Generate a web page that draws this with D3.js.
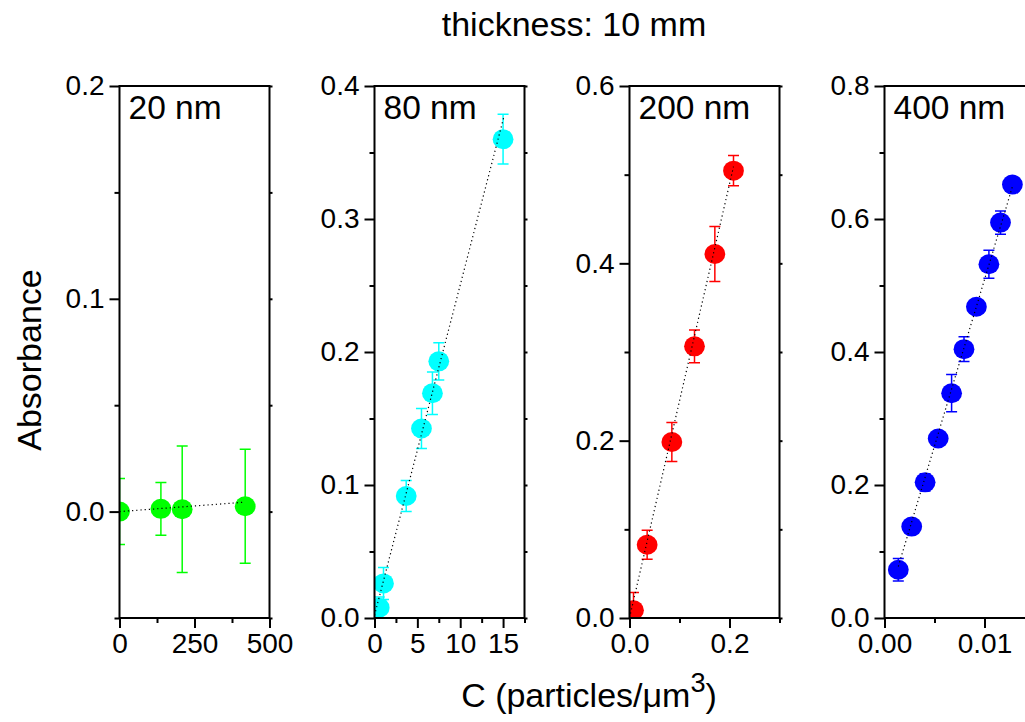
<!DOCTYPE html>
<html>
<head>
<meta charset="utf-8">
<script src="https://cdn.jsdelivr.net/npm/d3@7"></script>
<style>
  html, body { margin: 0; padding: 0; background: #fff; }
  svg text { font-family: "Liberation Sans", Arial, sans-serif; fill: #000; }
</style>
</head>
<body>
<svg id="chart" width="1025" height="722"></svg>
<script>
// ---------------- data ----------------
const panelLabels = ["20 nm", "80 nm", "200 nm", "400 nm"];

const x20 = [0, 138, 209, 419];
const y20 = [0.0, 0.0013, 0.0011, 0.0025];
const e20 = [0.0155, 0.0124, 0.0297, 0.0268];
const fit20X = [0, 415];
const fit20Y = [0.0, 0.0044];

const x80 = [0.55, 1.05, 3.7, 5.48, 6.76, 7.5, 15.0];
const y80 = [0.0078, 0.026, 0.0917, 0.1425, 0.169, 0.193, 0.36];
const e80 = [0.008, 0.012, 0.0117, 0.015, 0.016, 0.014, 0.0187];
const fit80X = [0, 15.1];
const fit80Y = [0.002, 0.377];

const x200 = [0.008, 0.0353, 0.0847, 0.13, 0.1707, 0.208];
const y200 = [0.0087, 0.0826, 0.1985, 0.3064, 0.4105, 0.5045];
const e200 = [0.02, 0.0163, 0.022, 0.0185, 0.031, 0.017];
const fit200X = [0.002, 0.208];
const fit200Y = [0.005, 0.509];

const x400 = [0.00138, 0.00272, 0.00406, 0.00537, 0.00671, 0.00795, 0.00919, 0.01044, 0.0116, 0.01279];
const y400 = [0.0725, 0.1375, 0.204, 0.270, 0.338, 0.4043, 0.468, 0.532, 0.5946, 0.6517];
const e400 = [0.017, 0.005, 0.013, 0.005, 0.028, 0.0186, 0.006, 0.021, 0.0175, 0.004];
const fit400X = [0.00138, 0.0128];
const fit400Y = [0.0775, 0.649];

// axis domains and ticks
const xDomains = [[0, 500], [0, 17.5], [0, 0.3], [0, 0.015]];
const yDomains = [[-0.05, 0.2], [0, 0.4], [0, 0.6], [0, 0.8]];
const xMajor = [[0, 250, 500], [0, 5, 10, 15], [0, 0.2], [0, 0.01]];
const xMajorLabels = [["0", "250", "500"], ["0", "5", "10", "15"], ["0.0", "0.2"], ["0.00", "0.01"]];
const xMinor = [[125, 375], [2.5, 7.5, 12.5, 17.5], [0.1, 0.3], [0.005, 0.015]];
const yMajor = [[0, 0.1, 0.2], [0, 0.1, 0.2, 0.3, 0.4], [0, 0.2, 0.4, 0.6], [0, 0.2, 0.4, 0.6, 0.8]];
const yMajorLabels = [["0.0", "0.1", "0.2"], ["0.0", "0.1", "0.2", "0.3", "0.4"], ["0.0", "0.2", "0.4", "0.6"], ["0.0", "0.2", "0.4", "0.6", "0.8"]];
const yMinor = [[-0.05, 0.05, 0.15], [0.05, 0.15, 0.25, 0.35], [0.1, 0.3, 0.5], [0.1, 0.3, 0.5, 0.7]];

const titleText = "thickness: 10 mm";
const yTitle = "Absorbance";

// ---------------- styling/layout ----------------
const colors = ["#00ff00", "#00ffff", "#ff0000", "#0000ff"];
const lefts = [119.5, 374.5, 629.5, 884.5];
const pw = 150, plotTop = 86, plotBottom = 618;
const tickFont = 28, labelFont = 33.5, titleFont = 34;

const series = [
  {x: x20, y: y20, e: e20, fx: fit20X, fy: fit20Y},
  {x: x80, y: y80, e: e80, fx: fit80X, fy: fit80Y},
  {x: x200, y: y200, e: e200, fx: fit200X, fy: fit200Y},
  {x: x400, y: y400, e: e400, fx: fit400X, fy: fit400Y}
];

const svg = d3.select("#chart");
const defs = svg.append("defs");

series.forEach((s, i) => {
  const L = lefts[i];
  const x = d3.scaleLinear().domain(xDomains[i]).range([L, L + pw]);
  const y = d3.scaleLinear().domain(yDomains[i]).range([plotBottom, plotTop]);
  const g = svg.append("g");

  defs.append("clipPath").attr("id", "clip" + i)
    .append("rect").attr("x", L).attr("y", plotTop).attr("width", pw).attr("height", plotBottom - plotTop);

  const plot = g.append("g").attr("clip-path", `url(#clip${i})`);
  const pts = s.x.map((xv, k) => ({x: xv, y: s.y[k], e: s.e[k]}));

  // error bars
  const eb = plot.append("g").attr("stroke", colors[i]).attr("stroke-width", 1.5);
  pts.forEach(p => {
    eb.append("line").attr("x1", x(p.x)).attr("x2", x(p.x)).attr("y1", y(p.y - p.e)).attr("y2", y(p.y + p.e));
    [p.y - p.e, p.y + p.e].forEach(v => {
      eb.append("line").attr("x1", x(p.x) - 5.5).attr("x2", x(p.x) + 5.5).attr("y1", y(v)).attr("y2", y(v));
    });
  });

  // markers
  plot.append("g").selectAll("ellipse").data(pts).join("ellipse")
    .attr("cx", d => x(d.x)).attr("cy", d => y(d.y)).attr("rx", 10.4).attr("ry", 10)
    .attr("fill", colors[i]);

  // fit line
  const fitPts = s.fx.map((xv, k) => [xv, s.fy[k]]);
  plot.append("path").datum(fitPts)
    .attr("d", d3.line().x(d => x(d[0])).y(d => y(d[1])))
    .attr("fill", "none").attr("stroke", "#000").attr("stroke-width", 1.2)
    .attr("stroke-dasharray", "1.2,3");

  // axes: major ticks
  const ax = g.append("g").attr("transform", `translate(0,${plotBottom})`)
    .call(d3.axisBottom(x).tickValues(xMajor[i]).tickSize(10).tickPadding(5)
      .tickFormat((d, k) => xMajorLabels[i][k]));
  const axm = g.append("g").attr("transform", `translate(0,${plotBottom})`)
    .call(d3.axisBottom(x).tickValues(xMinor[i]).tickSize(5).tickFormat(""));
  const ay = g.append("g").attr("transform", `translate(${L},0)`)
    .call(d3.axisLeft(y).tickValues(yMajor[i]).tickSize(10).tickPadding(5)
      .tickFormat((d, k) => yMajorLabels[i][k]));
  const aym = g.append("g").attr("transform", `translate(${L},0)`)
    .call(d3.axisLeft(y).tickValues(yMinor[i]).tickSize(5).tickFormat(""));
  const ayr = g.append("g").attr("transform", `translate(${L + pw},0)`)
    .call(d3.axisRight(y).tickValues(yMajor[i].concat(yMinor[i])).tickSize(3).tickFormat(""));
  [ax, axm, ay, aym, ayr].forEach(a => {
    a.select(".domain").remove();
    a.selectAll("line").attr("stroke", "#000").attr("stroke-width", 2);
    a.selectAll("text").attr("font-size", tickFont).attr("font-family", "Liberation Sans, Arial, sans-serif");
  });

  // frame
  g.append("rect").attr("x", L).attr("y", plotTop).attr("width", pw).attr("height", plotBottom - plotTop)
    .attr("fill", "none").attr("stroke", "#000").attr("stroke-width", 2);

  // panel label
  g.append("text").attr("x", L + 9).attr("y", plotTop + 33)
    .attr("font-size", labelFont).text(panelLabels[i]);
});

// titles
svg.append("text").attr("x", 574).attr("y", 36).attr("text-anchor", "middle")
  .attr("font-size", titleFont).text(titleText);

const xt = svg.append("text").attr("x", 589).attr("y", 707).attr("text-anchor", "middle")
  .attr("font-size", titleFont);
xt.append("tspan").text("C (particles/μm");
xt.append("tspan").attr("font-size", titleFont * 0.8).attr("dy", -15).text("3");
xt.append("tspan").attr("dy", 15).text(")");

svg.append("text").attr("transform", "translate(41,360) rotate(-90)").attr("text-anchor", "middle")
  .attr("font-size", titleFont).text(yTitle);
</script>
</body>
</html>
